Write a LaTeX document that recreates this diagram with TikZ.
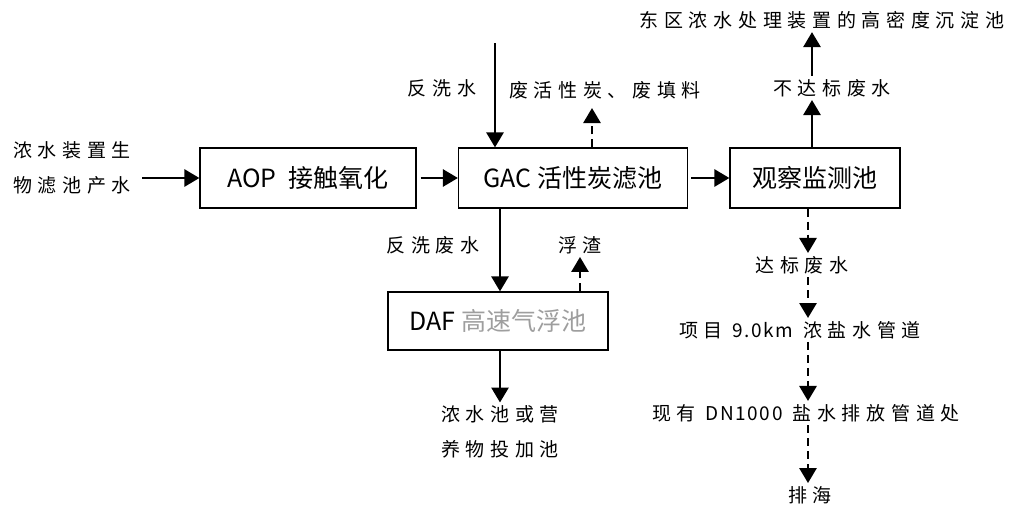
\documentclass[tikz,border=0pt]{standalone}
\usepackage{fontspec}
\usetikzlibrary{arrows.meta}
\newfontfamily\cjk[LetterSpace=30]{Noto Sans CJK SC}
\newfontfamily\cjkbox{Noto Sans CJK SC}
\definecolor{dafgray}{gray}{0.62}

\begin{document}
\begin{tikzpicture}[x=1pt,y=-1pt,>={Triangle[width=17pt,length=15pt]},
    unit/.style={draw,line width=1.2pt,minimum height=60pt,inner sep=2pt,
        font=\cjkbox\fontsize{25}{30}\selectfont},
    lbl/.style={font=\cjk\fontsize{19}{35}\selectfont,align=center,inner sep=3pt},
    flow/.style={->,line width=2.8pt},
    dflow/.style={flow,dash pattern=on 8pt off 5pt}]
    \useasboundingbox (0,0) rectangle (1021,509);

    % the treatment units
    \node[unit,minimum width=216pt] (aop) at (308,178) {AOP\enspace 接触氧化};
    \node[unit,minimum width=229pt] (gac) at (573,178) {GAC 活性炭滤池};
    \node[unit,minimum width=170pt] (mon) at (815,178) {观察监测池};
    \node[unit,minimum width=220pt,minimum height=58pt] (daf) at (498,321)
        {DAF \textcolor{dafgray}{高速气浮池}};

    % the labels
    \node[lbl] (src) at (72,168) {浓水装置生\\物滤池产水};
    \node[lbl] (east) at (822,20) {东区浓水处理装置的高密度沉淀池};
    \node[lbl] (fail) at (832,88) {不达标废水};
    \node[lbl] (bw) at (442,88) {反洗水};
    \node[lbl] (spent) at (605,90) {废活性炭、废填料};
    \node[lbl] (bww) at (433,245) {反洗废水};
    \node[lbl] (scum) at (580,245) {浮渣};
    \node[lbl] (tank) at (500,432) {浓水池或营\\养物投加池};
    \node[lbl] (pass) at (802,265) {达标废水};
    \node[lbl] (pipe) at (800,330) {项目 {\cjkbox\addfontfeature{LetterSpace=8}9.0km} 浓盐水管道};
    \node[lbl] (outfall) at (806,413) {现有 {\cjkbox\addfontfeature{LetterSpace=8}DN1000} 盐水排放管道处};
    \node[lbl] (sea) at (810,495) {排海};

    % where the vertical lines run
    \coordinate (bwtop) at (495,43);
    \coordinate (sx) at (592,0);
    \coordinate (dx) at (500,0);
    \coordinate (ux) at (812,0);
    \coordinate (ax) at (808,0);

    % main line
    \draw[flow,shorten <=8pt] (src.east |- aop.west) -- (aop.west);
    \draw[flow,shorten <=4pt] (aop) -- (gac);
    \draw[flow,shorten <=3pt] (gac) -- (mon);

    % backwash of the GAC filter
    \draw[flow] (bwtop) -- (bwtop |- gac.north);
    \draw[dflow,shorten >=6pt] (sx |- gac.north) -- (sx |- spent.south);
    \draw[flow] (dx |- gac.south) -- (dx |- daf.north);
    \draw[dflow] (daf.north -| scum.south) -- (scum.south);
    \draw[flow] (daf.south -| tank.north) -- (tank.north);

    % off-spec water back to the east plant
    \draw[flow] (ux |- mon.north) -- (ux |- fail.south);
    \draw[flow] (ux |- fail.north) -- (ux |- east.south);

    % water to sea
    \draw[dflow] (ax |- mon.south) -- (ax |- pass.north);
    \draw[dflow] (ax |- pass.south) -- (ax |- pipe.north);
    \draw[dflow] (ax |- pipe.south) -- (ax |- outfall.north);
    \draw[dflow] (ax |- outfall.south) -- (ax |- sea.north);
\end{tikzpicture}
\end{document}
